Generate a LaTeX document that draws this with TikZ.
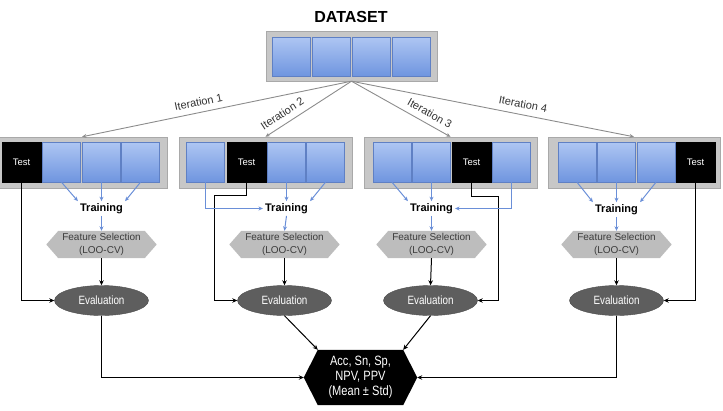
\documentclass[tikz,border=0pt]{standalone}
\usepackage{fontspec}
\setmainfont{Liberation Sans}
\newfontfamily\narrowfont[FakeStretch=0.82]{Liberation Sans}
\usetikzlibrary{arrows.meta,calc,backgrounds,shadows,shapes.geometric}
\definecolor{cellTop}{HTML}{AEC6F3}
\definecolor{cellBot}{HTML}{6F95DF}
\definecolor{cellLine}{HTML}{5F80C4}
\definecolor{boxFill}{HTML}{C7C7C7}
\definecolor{boxLine}{HTML}{A9A9A9}
\definecolor{iterGray}{HTML}{8C8C8C}
\definecolor{blueArr}{HTML}{6A8FD8}
\definecolor{fsFill}{HTML}{BDBDBD}
\definecolor{fsText}{HTML}{3C3C3C}
\definecolor{evFill}{HTML}{5E5E5E}
\tikzset{
  outerbox/.style={draw=boxLine, fill=boxFill, minimum height=51pt, inner sep=0pt,
    drop shadow={shadow xshift=1.2pt, shadow yshift=-1.2pt, opacity=0.25}},
  cell/.style={draw=cellLine, top color=cellTop, bottom color=cellBot,
    minimum width=38pt, minimum height=40pt, inner sep=0pt},
  testcell/.style={draw=black, fill=black, text=white, minimum width=39pt,
    minimum height=40pt, inner sep=0pt, font=\fontsize{9.5}{11}\selectfont},
  iterline/.style={draw=iterGray, line width=0.9pt, -{Stealth[length=4.5pt,width=4pt]}},
  iterlabel/.style={sloped, above=4pt, text=black!80, font=\fontsize{11}{12}\selectfont, inner sep=2pt},
  trainlabel/.style={font=\bfseries\fontsize{11}{13}\selectfont, inner sep=2pt},
  fsnode/.style={minimum width=110pt, minimum height=27pt, inner sep=0pt, align=center,
    text=fsText, font=\fontsize{10}{12.5}\selectfont},
  evnode/.style={ellipse, draw=evFill!80!black, fill=evFill, text=white, minimum width=94pt,
    minimum height=30pt, inner sep=0pt, font=\narrowfont\fontsize{12}{13}\selectfont},
  resnode/.style={minimum width=113pt, minimum height=55pt, inner sep=0pt, align=center,
    text=white, font=\narrowfont\fontsize{13.5}{15}\selectfont},
  blk/.style={draw=black, line width=1pt, -{Stealth[length=5pt,width=4.5pt]}},
  blu/.style={draw=blueArr, line width=1pt, -{Stealth[length=4.5pt,width=4pt]}},
}
\begin{document}
\begin{tikzpicture}[x=1pt, y=-1pt]
\useasboundingbox (0,0) rectangle (723,410);
% dataset
\node[font=\bfseries\fontsize{16}{18}\selectfont] (title) at (351,17) {DATASET};
\node[outerbox, minimum width=171pt, minimum height=50pt] (ds) at (351.5,56) {};
\node[cell, minimum height=39pt] (ds1) at (291.5,56.5) {};
\node[cell, minimum height=39pt] (ds2) at (331.5,56.5) {};
\node[cell, minimum height=39pt] (ds3) at (371.5,56.5) {};
\node[cell, minimum height=39pt] (ds4) at (411.5,56.5) {};
% row boxes
\node[outerbox, minimum width=170pt] (b1) at (82,162.5) {};
\node[outerbox, minimum width=173pt] (b2) at (265.5,162.5) {};
\node[outerbox, minimum width=173pt] (b3) at (450.5,162.5) {};
\node[outerbox, minimum width=172pt] (b4) at (634,162.5) {};
% box 1 cells
\node[testcell] (c11) at (21.5,162) {Test};
\node[cell] (c12) at (61.5,162) {};
\node[cell] (c13) at (101.5,162) {};
\node[cell] (c14) at (140.5,162) {};
% box 2 cells
\node[cell] (c21) at (205.5,162) {};
\node[testcell] (c22) at (246.5,162) {Test};
\node[cell] (c23) at (286.5,162) {};
\node[cell] (c24) at (325.5,162) {};
% box 3 cells
\node[cell] (c31) at (392,162) {};
\node[cell] (c32) at (431.5,162) {};
\node[testcell] (c33) at (471.5,162) {Test};
\node[cell] (c34) at (511.5,162) {};
% box 4 cells
\node[cell] (c41) at (577,162) {};
\node[cell] (c42) at (616.5,162) {};
\node[cell] (c43) at (656,162) {};
\node[testcell] (c44) at (695.5,162) {Test};
% iteration connectors
\draw[iterline] (ds.south) -- node[iterlabel, pos=0.56] {Iteration 1} (b1.north);
\draw[iterline] (ds.south) -- node[iterlabel, pos=0.74] {Iteration 2} (b2.north);
\draw[iterline] (ds.south) -- node[iterlabel, pos=0.74] {Iteration 3} (b3.north);
\draw[iterline] (ds.south) -- node[iterlabel, pos=0.60] {Iteration 4} (b4.north);
% training labels
\node[trainlabel] (tr1) at (101.5,208.5) {Training};
\node[trainlabel] (tr2) at (286.5,208.5) {Training};
\node[trainlabel] (tr3) at (431.5,208.5) {Training};
\node[trainlabel] (tr4) at (616.5,209.5) {Training};
% feature selection
\node[fsnode] (fs1) at (101.5,244.5) {Feature Selection\\(LOO-CV)};
\node[fsnode] (fs2) at (284.5,244.5) {Feature Selection\\(LOO-CV)};
\node[fsnode] (fs3) at (431.5,244.5) {Feature Selection\\(LOO-CV)};
\node[fsnode] (fs4) at (616.5,244.5) {Feature Selection\\(LOO-CV)};
% evaluation
\node[evnode] (ev1) at (101.5,300.5) {Evaluation};
\node[evnode] (ev2) at (284.5,300.5) {Evaluation};
\node[evnode] (ev3) at (430.5,300.5) {Evaluation};
\node[evnode] (ev4) at (616.5,300.5) {Evaluation};
% result
\node[resnode] (res) at (360.5,377.5) {Acc, Sn, Sp,\\NPV, PPV\\(Mean ± Std)};
\coordinate (resTL) at ($(res.north west)+(14,0)$);
\coordinate (resTR) at ($(res.north east)+(-14,0)$);
\begin{scope}[on background layer]
\foreach \n in {fs1,fs2,fs3,fs4}{
  \fill[fsFill] (\n.west) -- ($(\n.north west)+(12,0)$) -- ($(\n.north east)+(-12,0)$)
    -- (\n.east) -- ($(\n.south east)+(-12,0)$) -- ($(\n.south west)+(12,0)$) -- cycle;
}
\fill[black] (res.west) -- (resTL) -- (resTR) -- (res.east)
  -- ($(res.south east)+(-14,0)$) -- ($(res.south west)+(14,0)$) -- cycle;
\end{scope}
% junction coordinates
\coordinate (j2) at (214.5,195.5);
\coordinate (j3) at (498.5,196.5);
% box 1 flow
\draw[blu] (c12.south) -- (tr1.north west);
\draw[blu] (c13.south) -- (tr1.north);
\draw[blu] (c14.south) -- (tr1.north east);
\draw[blu] (tr1.south) -- (fs1.north);
\draw[blk] (fs1.south) -- (ev1.north);
\draw[blk] (c11.south) |- (ev1.west);
\draw[blk] (ev1.south) |- (res.west);
% box 2 flow
\draw[blk] (c22.south) |- (j2) |- (ev2.west);
\draw[blu] (c21.south) |- (tr2.west);
\draw[blu] (c23.south) -- (tr2.north);
\draw[blu] (c24.south) -- (tr2.north east);
\draw[blu] (tr2.south) -- (fs2.north);
\draw[blk] (fs2.south) -- (ev2.north);
\draw[blk] (ev2.south) -- (resTL);
% box 3 flow
\draw[blk] (c33.south) |- (j3) |- (ev3.east);
\draw[blu] (c31.south) -- (tr3.north west);
\draw[blu] (c32.south) -- (tr3.north);
\draw[blu] (c34.south) |- (tr3.east);
\draw[blu] (tr3.south) -- (fs3.north);
\draw[blk] (fs3.south) -- (ev3.north);
\draw[blk] (ev3.south) -- (resTR);
% box 4 flow
\draw[blu] (c41.south) -- (tr4.north west);
\draw[blu] (c42.south) -- (tr4.north);
\draw[blu] (c43.south) -- (tr4.north east);
\draw[blu] (tr4.south) -- (fs4.north);
\draw[blk] (fs4.south) -- (ev4.north);
\draw[blk] (c44.south) |- (ev4.east);
\draw[blk] (ev4.south) |- (res.east);
\end{tikzpicture}
\end{document}
